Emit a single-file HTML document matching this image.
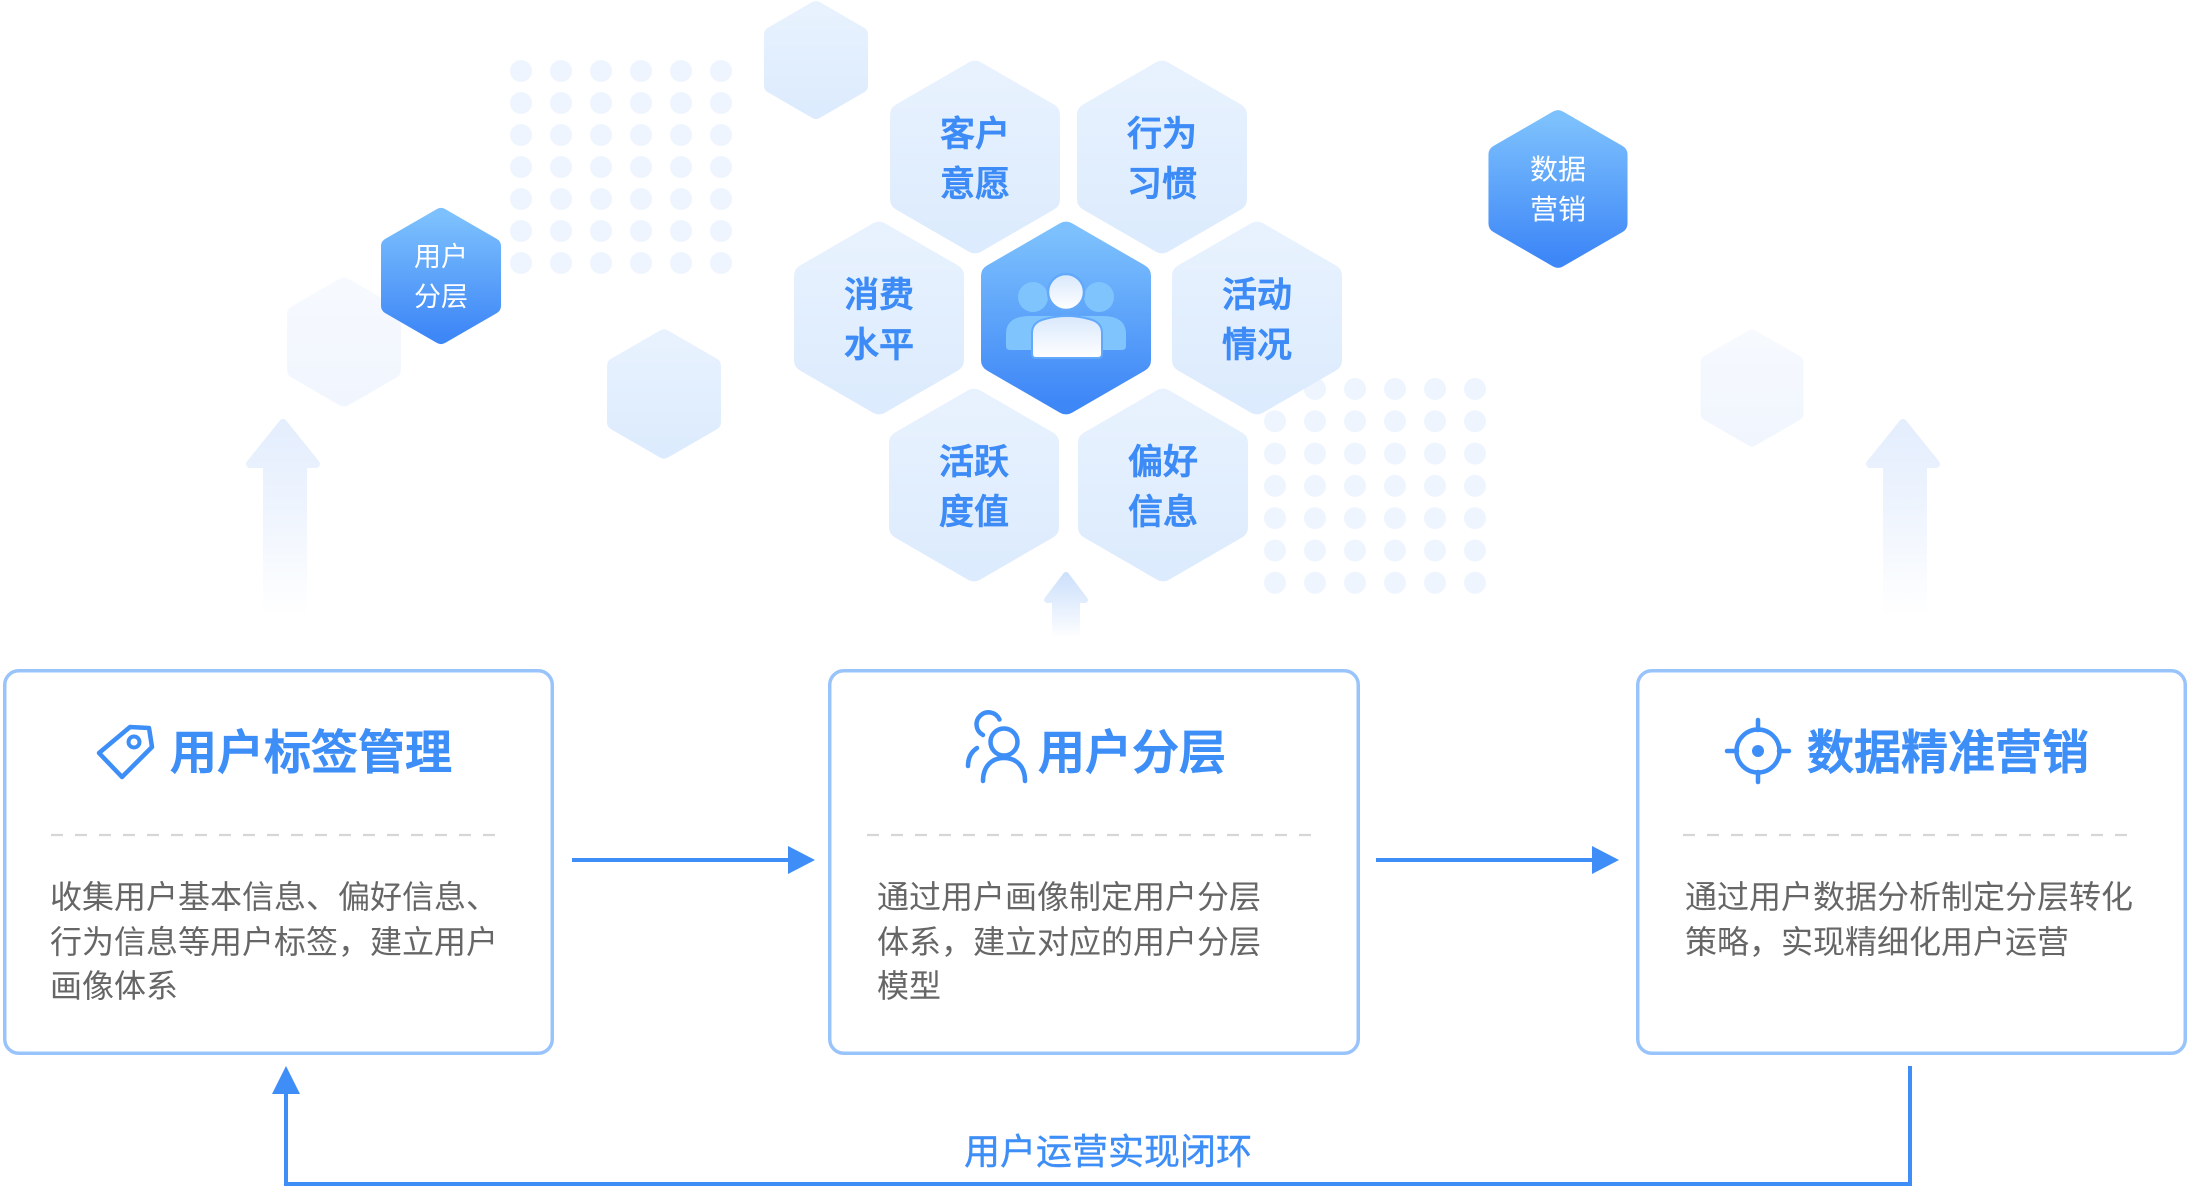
<!DOCTYPE html>
<html>
<head>
<meta charset="utf-8">
<style>
html,body{margin:0;padding:0;background:#fff;width:2190px;height:1188px;overflow:hidden}
svg{display:block}
</style>
</head>
<body>
<svg width="2190" height="1188" viewBox="0 0 2190 1188" xmlns="http://www.w3.org/2000/svg" font-family="'Liberation Sans','Noto Sans CJK SC',sans-serif">
<defs>
  <linearGradient id="lh" x1="0" y1="0" x2="0" y2="1">
    <stop offset="0" stop-color="#e8f2fe"/>
    <stop offset="1" stop-color="#dcebfd"/>
  </linearGradient>
  <linearGradient id="fh" x1="0" y1="0" x2="0" y2="1">
    <stop offset="0" stop-color="#f6f9fe"/>
    <stop offset="1" stop-color="#f1f6fe"/>
  </linearGradient>
  <linearGradient id="bh" x1="0" y1="0" x2="0" y2="1">
    <stop offset="0" stop-color="#7cc0fd"/>
    <stop offset="1" stop-color="#3e87f7"/>
  </linearGradient>
  <linearGradient id="wg" x1="0" y1="0" x2="0" y2="1">
    <stop offset="0" stop-color="#d9e8fc"/>
    <stop offset="1" stop-color="#ffffff"/>
  </linearGradient>
  <linearGradient id="arL" gradientUnits="userSpaceOnUse" x1="0" y1="417" x2="0" y2="616">
    <stop offset="0" stop-color="#e3edfd"/>
    <stop offset="0.45" stop-color="#eef4fe"/>
    <stop offset="1" stop-color="#ffffff"/>
  </linearGradient>
  <linearGradient id="arS" gradientUnits="userSpaceOnUse" x1="0" y1="570" x2="0" y2="638">
    <stop offset="0" stop-color="#cadefb"/>
    <stop offset="0.5" stop-color="#e3eefd"/>
    <stop offset="1" stop-color="#ffffff"/>
  </linearGradient>
  <pattern id="dots1" x="510" y="60" width="40" height="32" patternUnits="userSpaceOnUse">
    <circle cx="11" cy="11" r="11" fill="#eef5fe"/>
  </pattern>
  <pattern id="dots2" x="1264" y="378" width="40" height="32.3" patternUnits="userSpaceOnUse">
    <circle cx="11" cy="11" r="11" fill="#eef5fe"/>
  </pattern>
  <polygon id="hx" points="0,-84.3 73,-42.15 73,42.15 0,84.3 -73,42.15 -73,-42.15" stroke-width="24" stroke-linejoin="round"/>
</defs>

<!-- dot grids -->
<rect x="510" y="60" width="240" height="224" fill="url(#dots1)"/>
<rect x="1264" y="378" width="240" height="226" fill="url(#dots2)"/>

<!-- decorative hexes -->
<use href="#hx" fill="url(#lh)" stroke="url(#lh)" transform="translate(816,60) scale(0.612)"/>
<use href="#hx" fill="url(#fh)" stroke="url(#fh)" transform="translate(344,342) scale(0.67)"/>
<use href="#hx" fill="url(#lh)" stroke="url(#lh)" transform="translate(664,394) scale(0.67)"/>
<use href="#hx" fill="url(#fh)" stroke="url(#fh)" transform="translate(1752,388) scale(0.606)"/>

<!-- small blue hexes -->
<use href="#hx" fill="url(#bh)" stroke="url(#bh)" transform="translate(441,276) scale(0.706)"/>
<text x="441" y="266" font-size="27" fill="#ffffff" text-anchor="middle">用户</text>
<text x="441" y="306" font-size="27" fill="#ffffff" text-anchor="middle">分层</text>

<use href="#hx" fill="url(#bh)" stroke="url(#bh)" transform="translate(1558,189) scale(0.818)"/>
<text x="1558" y="179" font-size="28" fill="#ffffff" text-anchor="middle">数据</text>
<text x="1558" y="219" font-size="28" fill="#ffffff" text-anchor="middle">营销</text>

<!-- big faded arrows -->
<polygon points="283,423 316,464 303,464 303,616 267,616 267,464 250,464" fill="url(#arL)" stroke="url(#arL)" stroke-width="8" stroke-linejoin="round"/>
<polygon points="1903,423 1936,464 1923,464 1923,616 1887,616 1887,464 1870,464" fill="url(#arL)" stroke="url(#arL)" stroke-width="8" stroke-linejoin="round"/>
<!-- small center arrow -->
<polygon points="1066,575 1085,600 1077,600 1077,638 1055,638 1055,600 1047,600" fill="url(#arS)" stroke="url(#arS)" stroke-width="6" stroke-linejoin="round"/>

<!-- honeycomb -->
<use href="#hx" fill="url(#lh)" stroke="url(#lh)" transform="translate(975,157)"/>
<use href="#hx" fill="url(#lh)" stroke="url(#lh)" transform="translate(1162,157)"/>
<use href="#hx" fill="url(#lh)" stroke="url(#lh)" transform="translate(879,318)"/>
<use href="#hx" fill="url(#lh)" stroke="url(#lh)" transform="translate(1257,318)"/>
<use href="#hx" fill="url(#lh)" stroke="url(#lh)" transform="translate(974,485)"/>
<use href="#hx" fill="url(#lh)" stroke="url(#lh)" transform="translate(1163,485)"/>
<g font-size="35" fill="#3d8bf6" stroke="#3d8bf6" stroke-width="0.8" text-anchor="middle" font-weight="500">
  <text x="975" y="146">客户</text><text x="975" y="196">意愿</text>
  <text x="1162" y="146">行为</text><text x="1162" y="196">习惯</text>
  <text x="879" y="307">消费</text><text x="879" y="357">水平</text>
  <text x="1257" y="307">活动</text><text x="1257" y="357">情况</text>
  <text x="974" y="474">活跃</text><text x="974" y="524">度值</text>
  <text x="1163" y="474">偏好</text><text x="1163" y="524">信息</text>
</g>

<!-- central hex -->
<use href="#hx" fill="url(#bh)" stroke="url(#bh)" transform="translate(1066,318)"/>
<circle cx="1033" cy="297" r="15" fill="#80c4fd"/>
<circle cx="1099" cy="297" r="15" fill="#80c4fd"/>
<path d="M1006 346 V334 Q1006 316 1030 316 H1102 Q1126 316 1126 334 V346 Q1126 350 1122 350 H1010 Q1006 350 1006 346 Z" fill="#80c4fd"/>
<circle cx="1066" cy="292" r="18" fill="url(#wg)" stroke="#62a9fb" stroke-width="2.5"/>
<path d="M1032 354 V333 Q1032 322 1045 319 Q1056 316 1067 316 Q1078 316 1089 319 Q1102 322 1102 333 V354 Q1102 358 1098 358 H1036 Q1032 358 1032 354 Z" fill="url(#wg)" stroke="#62a9fb" stroke-width="2"/>

<!-- boxes -->
<g fill="#ffffff" stroke="#99c4fb" stroke-width="3.5">
  <rect x="4.75" y="670.75" width="547.5" height="382.5" rx="14"/>
  <rect x="829.75" y="670.75" width="528.5" height="382.5" rx="14"/>
  <rect x="1637.75" y="670.75" width="547.5" height="382.5" rx="14"/>
</g>

<!-- dashed dividers -->
<g stroke="#d6d6d6" stroke-width="2.2" stroke-dasharray="12 12">
  <line x1="51" y1="835" x2="497" y2="835"/>
  <line x1="867" y1="835" x2="1313" y2="835"/>
  <line x1="1683" y1="835" x2="2129" y2="835"/>
</g>

<!-- box titles -->
<g font-size="47" fill="#3e8ef7" stroke="#3e8ef7" stroke-width="1.1" font-weight="500">
  <text x="170" y="769">用户标签管理</text>
  <text x="1038" y="769">用户分层</text>
  <text x="1807" y="769">数据精准营销</text>
</g>

<!-- icons -->
<g fill="none" stroke="#3e8ef7" stroke-width="4.5" stroke-linejoin="round" stroke-linecap="round">
  <!-- tag -->
  <polygon points="99,753 130,727 149,728 152,747 122,777"/>
  <circle cx="134" cy="742" r="5.5" stroke-width="4"/>
  <!-- users outline -->
  <circle cx="1004" cy="742" r="13.5"/>
  <path d="M983 781 C983 766 992 758 1004 758 C1016 758 1025 766 1025 781"/>
  <path d="M983 735 A12 12 0 1 1 999.5 719.5"/>
  <path d="M968 766 C968 758 971 752 977 748"/>
  <!-- crosshair -->
  <circle cx="1758" cy="751" r="21.5"/>
  <line x1="1758" y1="720" x2="1758" y2="730"/>
  <line x1="1758" y1="772" x2="1758" y2="782"/>
  <line x1="1727" y1="751" x2="1737" y2="751"/>
  <line x1="1779" y1="751" x2="1789" y2="751"/>
</g>
<circle cx="1758" cy="751" r="6" fill="#3e8ef7"/>

<!-- body text -->
<g font-size="32" fill="#666666">
  <text x="50" y="908">收集用户基本信息、偏好信息、</text>
  <text x="50" y="953">行为信息等用户标签，建立用户</text>
  <text x="50" y="997">画像体系</text>

  <text x="877" y="908">通过用户画像制定用户分层</text>
  <text x="877" y="953">体系，建立对应的用户分层</text>
  <text x="877" y="997">模型</text>

  <text x="1685" y="908">通过用户数据分析制定分层转化</text>
  <text x="1685" y="953">策略，实现精细化用户运营</text>
</g>

<!-- horizontal arrows -->
<g stroke="#3f8df7" stroke-width="4" fill="none">
  <line x1="572" y1="860" x2="792" y2="860"/>
  <line x1="1376" y1="860" x2="1596" y2="860"/>
  <path d="M1910 1066 V1184 H286 V1090"/>
</g>
<g fill="#3f8df7">
  <polygon points="788,846 815,860 788,874"/>
  <polygon points="1592,846 1619,860 1592,874"/>
  <polygon points="286,1066 272,1094 300,1094"/>
</g>

<text x="964" y="1164" font-size="36" fill="#3e8ef7" stroke="#3e8ef7" stroke-width="0.4">用户运营实现闭环</text>
</svg>
</body>
</html>
